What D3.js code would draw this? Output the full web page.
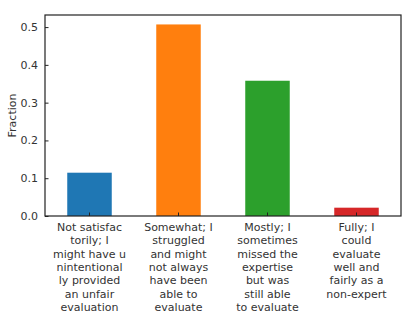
<!DOCTYPE html>
<html>
<head>
    <script src="https://d3js.org/d3.v7.min.js"></script>
    <style>
        body { margin: 0; background: #fff; }
        text { font-family: "DejaVu Sans", sans-serif; }
    </style>
</head>
<body>
    <svg width="415" height="312"></svg>
    <script>
    // answers and the share of each
    var categories = ["Not satisfactorily", "Somewhat", "Mostly", "Fully"];
    var fractions = [0.1146, 0.507, 0.358, 0.022];
    var colors = ["#1f77b4", "#ff7f0e", "#2ca02c", "#d62728"];
    var labelLines = [
        ["Not satisfac", "torily; I", "might have u", "nintentional", "ly provided", "an unfair", "evaluation"],
        ["Somewhat; I", "struggled", "and might", "not always", "have been", "able to", "evaluate"],
        ["Mostly; I", "sometimes", "missed the", "expertise", "but was", "still able", "to evaluate"],
        ["Fully; I", "could", "evaluate", "well and", "fairly as a", "non-expert"]
    ];
    var yTicks = [0.0, 0.1, 0.2, 0.3, 0.4, 0.5];

    var margin = {left: 45, right: 14, top: 15, bottom: 96};
    var W = 415, H = 312;
    var svg = d3.select("svg");

    var x = d3.scaleBand().domain(categories)
        .range([margin.left, W - margin.right])
        .paddingInner(0.5).paddingOuter(0.25);
    var y = d3.scaleLinear().domain([0, 0.532])
        .range([H - margin.bottom, margin.top]);

    // bars
    svg.selectAll("rect.bar").data(fractions).join("rect")
        .attr("class", "bar")
        .attr("x", function(d, i){ return x(categories[i]); })
        .attr("width", x.bandwidth())
        .attr("y", function(d){ return y(d); })
        .attr("height", function(d){ return y(0) - y(d); })
        .attr("fill", function(d, i){ return colors[i]; });

    // y axis, ticks pointing inward
    var yAxis = svg.append("g")
        .attr("transform", "translate(" + margin.left + ",0)")
        .call(d3.axisLeft(y).tickValues(yTicks).tickFormat(d3.format(".1f"))
            .tickSizeInner(-3.5).tickSizeOuter(0).tickPadding(7));
    yAxis.select(".domain").remove();
    yAxis.selectAll("text").attr("font-size", 11).attr("fill", "#333")
        .attr("font-family", "DejaVu Sans");
    yAxis.selectAll("line").attr("stroke", "#222");

    // x axis ticks
    var xAxis = svg.append("g")
        .attr("transform", "translate(0," + y(0) + ")")
        .call(d3.axisBottom(x).tickSizeInner(-3.5).tickSizeOuter(0).tickFormat(""));
    xAxis.select(".domain").remove();
    xAxis.selectAll("line").attr("stroke", "#222");

    // multi-line category labels
    labelLines.forEach(function(lines, i){
        var t = svg.append("text")
            .attr("text-anchor", "middle")
            .attr("font-size", 11)
            .attr("fill", "#333");
        lines.forEach(function(s, j){
            t.append("tspan")
                .attr("x", x(categories[i]) + x.bandwidth() / 2)
                .attr("y", y(0) + 15 + j * 13.3)
                .text(s);
        });
    });

    // frame
    svg.append("rect")
        .attr("x", margin.left).attr("y", margin.top)
        .attr("width", W - margin.left - margin.right)
        .attr("height", H - margin.top - margin.bottom)
        .attr("fill", "none").attr("stroke", "#222").attr("stroke-width", 1.2);

    // axis title
    svg.append("text")
        .attr("transform", "translate(16," + (margin.top + (H - margin.top - margin.bottom) / 2) + ") rotate(-90)")
        .attr("text-anchor", "middle")
        .attr("font-size", 11)
        .attr("fill", "#333")
        .text("Fraction");
    </script>
</body>
</html>
